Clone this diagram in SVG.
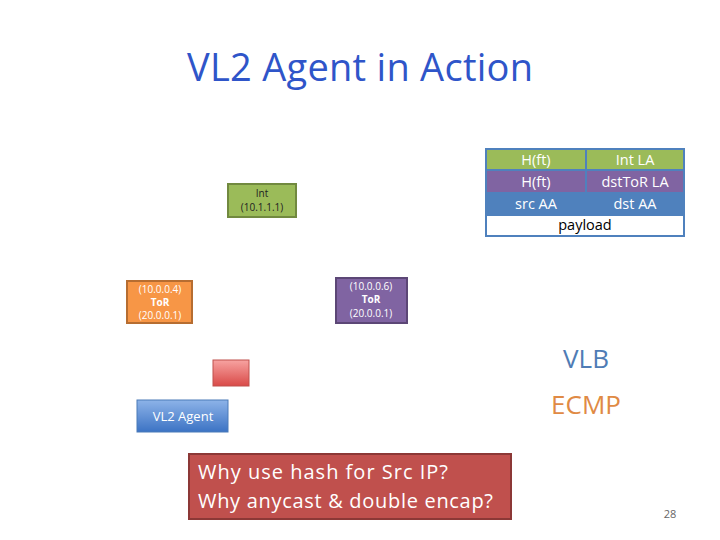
<svg xmlns="http://www.w3.org/2000/svg" width="720" height="540" viewBox="0 0 720 540">
<style>
.t{font-family:"Open Sans","Liberation Sans",sans-serif;}
.w{fill:#fff;}
.hd{font-size:14.5px;text-anchor:middle;}
.sm{font-size:10px;text-anchor:middle;}
</style>
<defs>
<linearGradient id="gb" x1="0" y1="0" x2="0" y2="1"><stop offset="0" stop-color="#8db3e8"/><stop offset="1" stop-color="#3c73c4"/></linearGradient>
<linearGradient id="gr" x1="0" y1="0" x2="0" y2="1"><stop offset="0" stop-color="#f7a3a1"/><stop offset="1" stop-color="#d94a48"/></linearGradient>
</defs>
<rect width="720" height="540" fill="#fff"/>
<text class="t" x="360" y="81" font-size="38" fill="#2f55c9" text-anchor="middle" textLength="346">VL2 Agent in Action</text>

<g id="header">
<rect x="485" y="148" width="200" height="89" fill="#4f81bd"/>
<rect x="487" y="150" width="98" height="19" fill="#9bbb59"/>
<rect x="587" y="150" width="96" height="19" fill="#9bbb59"/>
<rect x="487" y="171" width="98" height="21" fill="#8064a2"/>
<rect x="587" y="171" width="96" height="21" fill="#8064a2"/>
<rect x="487" y="194" width="98" height="20" fill="#4f81bd"/>
<rect x="587" y="194" width="96" height="20" fill="#4f81bd"/>
<rect x="487" y="216" width="196" height="19" fill="#fff"/>
<text class="t w hd" x="536" y="165">H(ft)</text>
<text class="t w hd" x="635" y="165">Int LA</text>
<text class="t w hd" x="536" y="187">H(ft)</text>
<text class="t w hd" x="635" y="187">dstToR LA</text>
<text class="t w hd" x="536" y="209">src AA</text>
<text class="t w hd" x="635" y="209">dst AA</text>
<text class="t hd" x="585" y="230" fill="#000">payload</text>
</g>

<g id="int">
<rect x="228" y="184" width="68" height="33" fill="#9bbb59" stroke="#71893f" stroke-width="2"/>
<text class="t sm" x="262" y="197" fill="#222">Int</text>
<text class="t sm" x="262" y="211" fill="#222">(10.1.1.1)</text>
</g>

<g id="tor1">
<rect x="127" y="281" width="65" height="42" fill="#f79646" stroke="#b66d31" stroke-width="2"/>
<text class="t w sm" x="160" y="293">(10.0.0.4)</text>
<text class="t w sm" x="160" y="306" font-weight="bold">ToR</text>
<text class="t w sm" x="160" y="319">(20.0.0.1)</text>
</g>

<g id="tor2">
<rect x="336" y="278" width="71" height="45" fill="#8064a2" stroke="#5c4776" stroke-width="2"/>
<text class="t w sm" x="371" y="290">(10.0.0.6)</text>
<text class="t w sm" x="371" y="303" font-weight="bold">ToR</text>
<text class="t w sm" x="371" y="317">(20.0.0.1)</text>
</g>

<g id="host">
<rect x="213" y="360" width="36" height="26" fill="url(#gr)" stroke="#c0504d" stroke-width="1"/>
</g>

<g id="agent">
<rect x="137" y="400" width="91" height="32" fill="url(#gb)" stroke="#4a7ab8" stroke-width="1"/>
<text class="t w" x="183" y="421" font-size="13" text-anchor="middle">VL2 Agent</text>
</g>

<text class="t" x="586" y="368" font-size="26" fill="#4f7cb5" text-anchor="middle">VLB</text>
<text class="t" x="586" y="414" font-size="26" fill="#e08a44" text-anchor="middle">ECMP</text>

<g id="question">
<rect x="189" y="454" width="322" height="65" fill="#c0504d" stroke="#8c3836" stroke-width="2"/>
<text class="t w" x="198" y="479" font-size="20" textLength="250">Why use hash for Src IP?</text>
<text class="t w" x="198" y="508" font-size="20" textLength="295">Why anycast &amp; double encap?</text>
</g>

<text class="t" x="670" y="518" font-size="11" fill="#666" text-anchor="middle">28</text>
<g id="connectors"/>
</svg>
